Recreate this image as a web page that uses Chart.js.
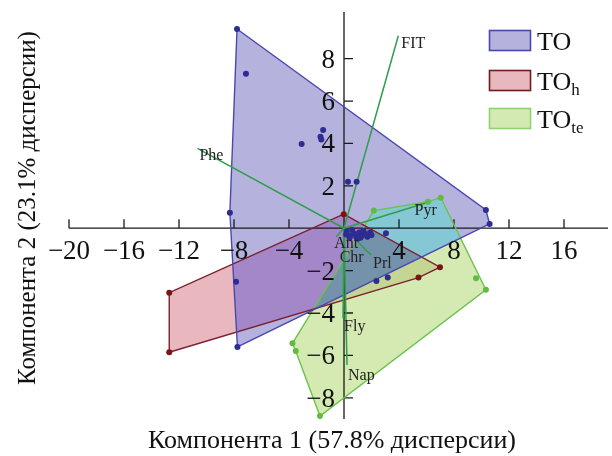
<!DOCTYPE html>
<html>
<head>
<meta charset="utf-8">
<script src="https://cdn.jsdelivr.net/npm/chart.js@4.4.0/dist/chart.umd.min.js"></script>
<style>
  html, body { margin: 0; padding: 0; background: #fff; }
  canvas { display: block; }
</style>
</head>
<body>
<canvas id="pca" width="612" height="456"></canvas>
<script>
// group hulls (PC1, PC2) in drawing order of the outline
const toHull = [[-7.78, 9.40], [-8.30, 0.73], [-7.75, -5.60], [10.59, 0.20], [10.32, 0.86]];
const hHull = [[-0.02, 0.66], [6.98, -1.84], [5.42, -2.33], [-12.71, -5.85], [-12.71, -3.04]];
const teHull = [[2.17, 0.83], [6.11, 1.25], [7.03, 1.44], [10.32, -2.90], [-1.75, -8.86], [-3.51, -5.79], [-3.75, -5.43]];

// points that are not on a hull
const toInner = [
  [-7.13, 7.29], [-3.08, 3.97], [-1.52, 4.63], [-1.71, 4.32], [-1.65, 4.19],
  [0.29, 2.19], [0.92, 2.19], [-7.85, -2.52], [2.36, -2.49], [3.18, -2.33], [3.05, -0.24],
  [0.2, -0.15], [0.45, -0.35], [0.7, -0.25], [0.9, -0.42], [1.1, -0.2], [1.3, -0.35],
  [1.5, -0.25], [1.7, -0.4], [1.9, -0.2], [0.4, -0.45], [1.0, -0.5], [1.4, -0.12],
  [2.0, -0.32], [0.6, -0.08], [1.2, -0.45], [0.15, -0.3]
];
const teInner = [[9.60, -2.36]];

// loadings
const loadNames = ['FIT', 'Phe', 'Pyr', 'Prl', 'Ant', 'Chr', 'Fly', 'Nap'];
const loadX = [3.95, -10.66, 6.0, 1.97, -0.56, 0.05, -0.07, 0.22];
const loadY = [9.08, 3.77, 1.2, -1.26, -0.40, -1.1, -4.25, -6.45];

const xTicks = [-20, -16, -12, -8, -4, 4, 8, 12, 16];
const yTicks = [-8, -6, -4, -2, 2, 4, 6, 8];
const groupSub = ['', 'h', 'te'];

// styles
const fillTO = '#b5b3de', fillH = '#e8b8be', fillTE = '#d5eab2';
const fillTOH = '#a387c9', fillTOTE = '#86c7d6', fillHTE = '#c4d692', fillAll3 = '#7492aa';
const lineTO = '#4a48b0', lineH = '#7c2030', lineTE = '#6cc24e', lineLoad = '#2f9e4c';
const dotTO = '#2c2c92', dotH = '#7a1414', dotTE = '#62bb40';
const labelOffset = [[3, 8], [2, 7], [-12, 8], [2, 9], [-2, 7], [-5, 6], [1, 8], [1, 11]];

const pts = arr => arr.map(p => ({ x: p[0], y: p[1] }));
const closed = arr => pts(arr.concat([arr[0]]));

const hullSet = (arr, color) => ({
  data: closed(arr), showLine: true, borderColor: color, borderWidth: 1.4,
  pointRadius: 0, fill: false, order: 3
});
const dotSet = (arr, color) => ({
  data: pts(arr), showLine: false, pointRadius: 3, pointBackgroundColor: color,
  pointBorderColor: color, pointBorderWidth: 0, order: 1
});
const loadSets = loadNames.map((n, i) => ({
  data: [{ x: 0, y: 0 }, { x: loadX[i], y: loadY[i] }], showLine: true,
  borderColor: lineLoad, borderWidth: 1.5, pointRadius: 0, order: 2
}));

const serif = '"Liberation Serif", "DejaVu Serif", serif';

const pcaDecor = {
  id: 'pcaDecor',
  beforeDatasetsDraw(chart) {
    const ctx = chart.ctx;
    const metas = [0, 1, 2].map(i => chart.getDatasetMeta(i));
    const path = m => {
      ctx.beginPath();
      m.data.forEach((p, i) => i ? ctx.lineTo(p.x, p.y) : ctx.moveTo(p.x, p.y));
      ctx.closePath();
    };
    const paint = (ids, color) => {
      ctx.save();
      ids.slice(0, -1).forEach(i => { path(metas[i]); ctx.clip(); });
      path(metas[ids[ids.length - 1]]);
      ctx.fillStyle = color;
      ctx.fill();
      ctx.restore();
    };
    paint([0], fillTO); paint([1], fillH); paint([2], fillTE);
    paint([0, 1], fillTOH); paint([0, 2], fillTOTE); paint([1, 2], fillHTE);
    paint([0, 1, 2], fillAll3);

    // axes through the origin
    const xs = chart.scales.x, ys = chart.scales.y;
    const x0 = xs.getPixelForValue(0), y0 = ys.getPixelForValue(0);
    ctx.save();
    ctx.strokeStyle = '#1a1a1a';
    ctx.lineWidth = 1.3;
    ctx.beginPath();
    ctx.moveTo(xs.getPixelForValue(-20), y0); ctx.lineTo(xs.right, y0);
    ctx.moveTo(x0, ys.top); ctx.lineTo(x0, ys.bottom);
    xTicks.forEach(v => { const px = xs.getPixelForValue(v); ctx.moveTo(px, y0); ctx.lineTo(px, y0 - 9); });
    yTicks.forEach(v => { const py = ys.getPixelForValue(v); ctx.moveTo(x0, py); ctx.lineTo(x0 + 9, py); });
    ctx.stroke();
    ctx.restore();
  },
  afterDatasetsDraw(chart) {
    const ctx = chart.ctx;
    const xs = chart.scales.x, ys = chart.scales.y;
    const x0 = xs.getPixelForValue(0), y0 = ys.getPixelForValue(0);
    const minus = v => (v < 0 ? '\u2212' : '') + Math.abs(v);
    ctx.save();
    ctx.fillStyle = '#111';
    ctx.font = '27px ' + serif;
    ctx.textBaseline = 'alphabetic';
    ctx.textAlign = 'center';
    xTicks.forEach(v => ctx.fillText(minus(v), xs.getPixelForValue(v), y0 + 31));
    ctx.textAlign = 'right';
    yTicks.forEach(v => ctx.fillText(minus(v), x0 - 9, ys.getPixelForValue(v) + 9));

    // loading labels
    ctx.font = '16px ' + serif;
    ctx.textAlign = 'left';
    ctx.textBaseline = 'middle';
    ctx.fillStyle = '#222';
    loadNames.forEach((n, i) => {
      ctx.fillText(n, xs.getPixelForValue(loadX[i]) + labelOffset[i][0], ys.getPixelForValue(loadY[i]) + labelOffset[i][1]);
    });

    // axis titles
    ctx.fillStyle = '#111';
    ctx.font = '26px ' + serif;
    ctx.textAlign = 'center';
    ctx.textBaseline = 'alphabetic';
    ctx.fillText('Компонента 1 (57.8% дисперсии)', 332, 448);
    ctx.save();
    ctx.font = '25px ' + serif;
    ctx.translate(35, 208);
    ctx.rotate(-Math.PI / 2);
    ctx.fillText('Компонента 2 (23.1% дисперсии)', 0, 0);
    ctx.restore();

    // legend
    const fills = [fillTO, fillH, fillTE], lines = ['#4a48b0', '#6e1c1c', '#8fd36e'];
    const rows = [30.5, 70.5, 108.5];
    rows.forEach((ry, i) => {
      ctx.fillStyle = fills[i];
      ctx.fillRect(489.5, ry, 41, 20);
      ctx.strokeStyle = lines[i];
      ctx.lineWidth = 1.6;
      ctx.strokeRect(489.5, ry, 41, 20);
      ctx.fillStyle = '#111';
      ctx.font = '26px ' + serif;
      ctx.textAlign = 'left';
      ctx.fillText('TO', 537, ry + 19);
      if (groupSub[i]) {
        const w = ctx.measureText('TO').width;
        ctx.font = '17px ' + serif;
        ctx.fillText(groupSub[i], 537 + w, ry + 24);
      }
    });
    ctx.restore();
  }
};

new Chart(document.getElementById('pca'), {
  type: 'scatter',
  data: {
    datasets: [
      hullSet(toHull, lineTO), hullSet(hHull, lineH), hullSet(teHull, lineTE),
      dotSet(toHull.concat(toInner), dotTO), dotSet(hHull, dotH), dotSet(teHull.concat(teInner), dotTE),
      ...loadSets
    ]
  },
  options: {
    responsive: false,
    animation: false,
    layout: { padding: { left: 69, right: 0, top: 12, bottom: 37 } },
    plugins: { legend: { display: false }, tooltip: { enabled: false } },
    scales: {
      x: { type: 'linear', min: -20, max: 19.2, display: false },
      y: { type: 'linear', min: -9, max: 10.2, display: false }
    }
  },
  plugins: [pcaDecor]
});
</script>
</body>
</html>
